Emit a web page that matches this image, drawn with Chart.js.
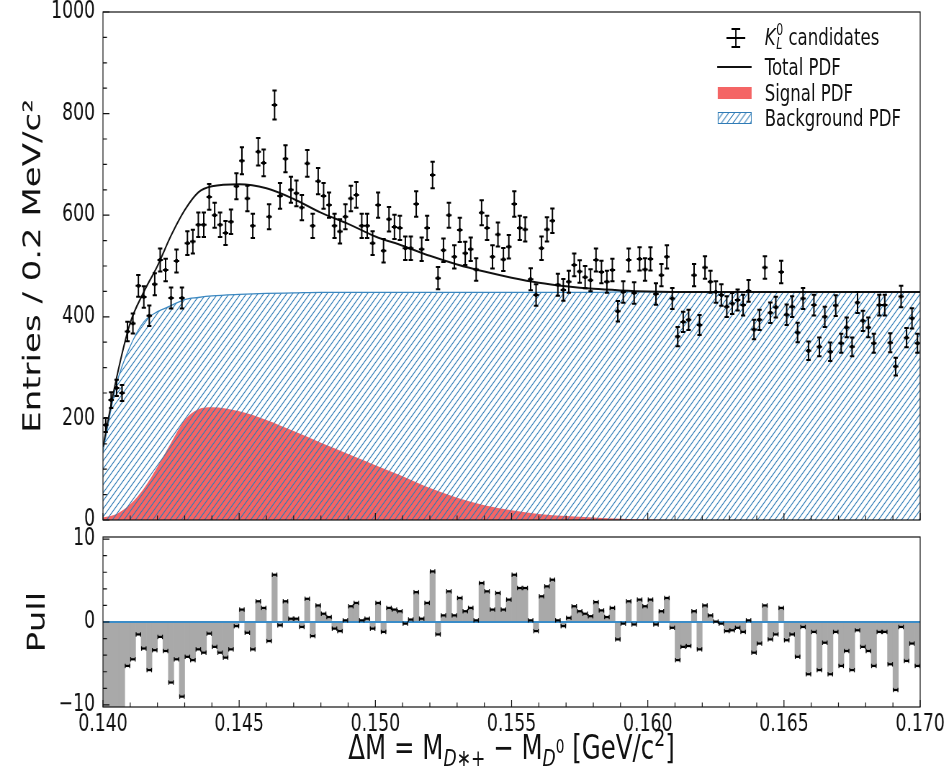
<!DOCTYPE html>
<html>
<head>
<meta charset="utf-8">
<title>ΔM fit of K_L^0 candidates</title>
<script src="https://cdn.jsdelivr.net/npm/chart.js@4.4.1/dist/chart.umd.min.js"></script>
<style>
  html, body { margin: 0; padding: 0; background: #fff; }
  body { width: 951px; height: 768px; overflow: hidden; }
  /* the reference figure is squeezed horizontally, so lay it out wide and scale it */
  #page { position: relative; width: 1321px; height: 768px; transform: scaleX(0.72); transform-origin: 0 0;
          font-family: "DejaVu Sans", sans-serif; color: #111; }
  canvas { position: absolute; left: 0; }
  #cTop { top: -20px; }
  #cPull { top: 510px; }
  .leg { position: absolute; left: 1062px; font-size: 23px; line-height: 30px; height: 30px; white-space: nowrap; }
  .icon { position: absolute; left: 990px; }
  .ss { display: inline-block; vertical-align: -0.28em; font-size: 0.66em; line-height: 0.95; margin-left: 1px; }
  .ss span { display: block; }
  #xtitle { position: absolute; left: 143px; width: 1135px; top: 727px; text-align: center; font-size: 34px; line-height: 40px; }
  #xtitle sub { font-size: 0.7em; vertical-align: -0.3em; line-height: 0; }
  #xtitle sub sup { font-size: 0.8em; vertical-align: 0.7em; }
  #xtitle > sup { font-size: 0.7em; vertical-align: 0.55em; line-height: 0; }
</style>
</head>
<body>
<div id="page">
  <canvas id="cTop" width="1321" height="570"></canvas>
  <canvas id="cPull" width="1321" height="258"></canvas>

  <svg class="icon" style="top:23px" width="60" height="30">
    <g stroke="#000" stroke-width="2">
      <line x1="32" y1="6" x2="32" y2="24"/><line x1="26" y1="6" x2="38" y2="6"/>
      <line x1="26" y1="24" x2="38" y2="24"/><line x1="19" y1="15" x2="45" y2="15"/>
    </g>
  </svg>
  <div class="leg" style="top:22px"><i>K</i><span class="ss"><span>0</span><span><i>L</i></span></span> candidates</div>

  <svg class="icon" style="top:52px" width="60" height="30">
    <line x1="6" y1="15" x2="54" y2="15" stroke="#111" stroke-width="2"/>
  </svg>
  <div class="leg" style="top:52px">Total PDF</div>

  <svg class="icon" style="top:78px" width="60" height="30">
    <rect x="7" y="9" width="47" height="12" fill="#f46565"/>
  </svg>
  <div class="leg" style="top:78px">Signal PDF</div>

  <svg class="icon" style="top:103px" width="60" height="30">
    <defs>
      <pattern id="hp" width="8" height="8" patternUnits="userSpaceOnUse">
        <path d="M0 8 L8 0 M-4 4 L4 -4 M4 12 L12 4" stroke="#2f7bb6" stroke-width="1.1"/>
      </pattern>
    </defs>
    <rect x="7.5" y="9.5" width="46" height="11" fill="url(#hp)" stroke="#2f7bb6" stroke-width="1"/>
  </svg>
  <div class="leg" style="top:103px">Background PDF</div>

  <div id="xtitle">ΔM = M<sub><i>D</i>∗+</sub> − M<sub><i>D</i><sup>0</sup></sub> [GeV/c<sup>2</sup>]</div>
</div>

<script>
// histogram: 150 bins of 0.2 MeV between 0.140 and 0.170 GeV
const xMin = 0.140, xMax = 0.170, binWidth = 0.0002;
const xTicks = [0.140, 0.145, 0.150, 0.155, 0.160, 0.165, 0.170];
const xTickLabels = ['0.140', '0.145', '0.150', '0.155', '0.160', '0.165', '0.170'];
const yTicks = [0, 200, 400, 600, 800, 1000];
const pullTicks = [-10, 0, 10];

const counts = [
  187, 236, 260, 250, 371, 387, 461, 439, 402, 464,
  512, 492, 437, 510, 437, 545, 548, 581, 581, 636,
  600, 581, 565, 587, 657, 707, 633, 579, 725, 703,
  597, 817, 638, 711, 650, 643, 615, 702, 579, 667,
  638, 620, 579, 568, 597, 633, 640, 579, 579, 545,
  620, 530, 592, 577, 575, 535, 535, 622, 533, 575,
  679, 476, 531, 600, 518, 571, 525, 533, 493, 605,
  575, 518, 562, 513, 538, 622, 575, 572, 474, 443,
  535, 572, 589, 463, 453, 469, 502, 489, 478, 472,
  512, 488, 469, 492, 411, 449, 512, 447, 514, 493,
  514, 445, 482, 518, 436, 361, 390, 394, 482, 384,
  497, 469, 449, 443, 420, 426, 433, 423, 451, 375,
  394, 497, 408, 419, 488, 404, 420, 369, 436, 333,
  423, 341, 400, 331, 422, 348, 379, 341, 428, 392,
  379, 348, 423, 423, 349, 302, 440, 359, 397, 348
];

const pulls = [
  -12, -12, -12, -12, -5.3, -4.5, -1.5, -3.2, -5.8, -3.4,
  -1.8, -3.5, -7.3, -4.5, -9.0, -4.2, -4.6, -3.3, -3.7, -1.4,
  -3.0, -3.7, -4.3, -3.3, -0.5, 1.5, -1.3, -3.3, 2.5, 1.7,
  -2.3, 5.7, -0.4, 2.5, 0.4, 0.4, -0.6, 2.8, -1.7, 2.0,
  1.0, 0.6, -0.8, -1.1, 0.2, 1.9, 2.3, 0.2, 0.4, -0.8,
  2.3, -1.2, 1.7, 1.5, 1.3, -0.2, 0.3, 3.6, 0.4, 2.3,
  6.1, -1.5, 0.8, 3.7, 0.8, 2.9, 1.3, 1.7, 0.2, 4.7,
  3.7, 1.5, 3.5, 1.5, 2.7, 5.7, 4.1, 4.1, 0.2, -1.1,
  3.1, 4.3, 5.1, 0.2, -0.5, 0.5, 1.9, 1.3, 1.0, 0.7,
  2.4, 1.4, 0.6, 1.7, -2.1, -0.2, 2.5, -0.3, 2.7, 1.9,
  2.7, -0.3, 1.3, 2.9, -0.7, -4.6, -3.0, -2.9, 1.3, -3.3,
  2.0, 0.8, 0.05, -0.2, -1.1, -1.0, -0.7, -1.2, 0.2, -3.7,
  -2.6, 2.0, -2.1, -1.5, 1.7, -2.2, -1.5, -4.2, -0.6, -6.3,
  -1.2, -5.8, -2.5, -6.3, -1.2, -5.3, -3.5, -5.8, -1.0, -3.0,
  -3.5, -5.3, -1.2, -1.2, -5.1, -8.2, -0.6, -4.7, -2.6, -5.3
];

// fitted PDFs sampled off the figure
const modelX = [0.1400, 0.1405, 0.1410, 0.1415, 0.1420, 0.1425, 0.1430, 0.1435, 0.1440, 0.1450,
                0.1460, 0.1470, 0.1480, 0.1490, 0.1500, 0.1510, 0.1520, 0.1530, 0.1540, 0.1550,
                0.1560, 0.1570, 0.1580, 0.1590, 0.1600, 0.1620, 0.1640, 0.1660, 0.1680, 0.1700];
const totalPdf = [144, 280, 388, 449, 500, 560, 610, 645, 657, 661,
                  653, 632, 605, 583, 558, 540, 520, 503, 489, 477,
                  467, 460, 455, 452, 450, 449, 449, 449, 449, 449];
const bkgPdf = [135, 268, 342, 390, 410, 422, 434, 438, 441, 444,
                446, 447, 448, 448, 448, 448, 448, 448, 448, 448,
                448, 448, 448, 449, 449, 449, 449, 449, 449, 449];
const sigPdf = [5, 12, 31, 62, 105, 152, 197, 218, 222, 214,
                197, 175, 152, 130, 108, 86, 63, 44, 29, 19,
                12, 8, 5, 2.5, 1, 0, 0, 0, 0, 0];

const binCenters = counts.map((_, i) => +(xMin + binWidth * (i + 0.5)).toFixed(5));
const errors = counts.map(Math.sqrt);
const dataPts = counts.map((c, i) => ({ x: binCenters[i], y: c }));
const pullPts = pulls.map((p, i) => ({ x: binCenters[i], y: p }));
const curve = arr => modelX.map((x, i) => ({ x, y: arr[i] }));

const FONT = 'DejaVu Sans';
const INK = '#111';
Chart.defaults.font.family = FONT;

function makeHatch() {
  const s = 8;
  const c = document.createElement('canvas');
  c.width = s; c.height = s;
  const g = c.getContext('2d');
  g.strokeStyle = '#2f7bb6';
  g.lineWidth = 1.1;
  g.beginPath();
  g.moveTo(0, s); g.lineTo(s, 0);
  g.moveTo(-s / 2, s / 2); g.lineTo(s / 2, -s / 2);
  g.moveTo(s / 2, s * 1.5); g.lineTo(s * 1.5, s / 2);
  g.stroke();
  return g.createPattern(c, 'repeat');
}

// box round the plot area with inward ticks on the left and bottom
const frame = {
  id: 'frame',
  afterDatasetsDraw(chart, args, o) {
    const { ctx, chartArea: a, scales: { x, y } } = chart;
    ctx.save();
    ctx.strokeStyle = INK;
    ctx.lineWidth = 1.2;
    ctx.beginPath();
    for (let k = 0; k <= 30; k++) {
      const px = x.getPixelForValue(xMin + k * 0.001);
      ctx.moveTo(px, a.bottom);
      ctx.lineTo(px, a.bottom - (k % 5 === 0 ? 7 : 4.5));
    }
    const n = Math.round((o.yTo - o.yFrom) / o.yMinor);
    for (let k = 0; k <= n; k++) {
      const v = o.yFrom + k * o.yMinor;
      const py = y.getPixelForValue(v);
      ctx.moveTo(a.left, py);
      ctx.lineTo(a.left + (k % o.every === 0 ? 9 : 5.5), py);
    }
    ctx.stroke();
    ctx.strokeRect(a.left, a.top, a.right - a.left, a.bottom - a.top);
    ctx.restore();
  }
};

const errorBars = {
  id: 'errorBars',
  beforeDatasetDraw(chart, args) {
    const ds = chart.data.datasets[args.index];
    if (!ds.errors) return;
    const { ctx, scales: { x, y } } = chart;
    const cap = 3;
    ctx.save();
    ctx.strokeStyle = '#000';
    ctx.lineWidth = 2;
    ctx.beginPath();
    ds.data.forEach((p, i) => {
      const e = ds.errors[i];
      const px = x.getPixelForValue(p.x), py = y.getPixelForValue(p.y);
      const y0 = y.getPixelForValue(p.y - e), y1 = y.getPixelForValue(p.y + e);
      ctx.moveTo(px, y0); ctx.lineTo(px, y1);
      ctx.moveTo(px - cap, y0); ctx.lineTo(px + cap, y0);
      ctx.moveTo(px - cap, y1); ctx.lineTo(px + cap, y1);
      ctx.moveTo(x.getPixelForValue(p.x - binWidth / 2), py);
      ctx.lineTo(x.getPixelForValue(p.x + binWidth / 2), py);
    });
    ctx.stroke();
    ctx.restore();
  }
};

const pullMarks = {
  id: 'pullMarks',
  afterDatasetsDraw(chart) {
    const { ctx, chartArea: a, scales: { x, y } } = chart;
    ctx.save();
    ctx.beginPath();
    ctx.rect(a.left, a.top, a.right - a.left, a.bottom - a.top);
    ctx.clip();
    const y0 = y.getPixelForValue(0);
    ctx.strokeStyle = '#3a8cc8';
    ctx.lineWidth = 1.8;
    ctx.beginPath();
    ctx.moveTo(a.left, y0); ctx.lineTo(a.right, y0);
    ctx.stroke();
    ctx.fillStyle = '#000';
    pullPts.forEach(p => {
      const px = x.getPixelForValue(p.x), py = y.getPixelForValue(p.y);
      ctx.fillRect(px - 3, py - 1.1, 6, 2.2);
      ctx.fillRect(px - 3.8, py - 2.2, 1.3, 4.4);
      ctx.fillRect(px + 2.5, py - 2.2, 1.3, 4.4);
    });
    ctx.restore();
  }
};

const tickFont = { family: FONT, size: 24 };
const titleFont = { family: FONT, size: 34 };

new Chart(document.getElementById('cTop'), {
  type: 'scatter',
  data: {
    datasets: [
      { label: 'K_L^0 candidates', data: dataPts, errors, pointStyle: 'rect', pointRadius: 2.6,
        backgroundColor: '#000', borderWidth: 0, order: 0 },
      { type: 'line', label: 'Total PDF', data: curve(totalPdf), borderColor: INK, borderWidth: 2,
        pointRadius: 0, fill: false, cubicInterpolationMode: 'monotone', order: 1 },
      { type: 'line', label: 'Background PDF', data: curve(bkgPdf), borderColor: '#3a87c0', borderWidth: 1.3,
        backgroundColor: makeHatch(), fill: 'origin', pointRadius: 0, cubicInterpolationMode: 'monotone', order: 2 },
      { type: 'line', label: 'Signal PDF', data: curve(sigPdf), borderColor: 'rgba(0,0,0,0)', borderWidth: 0,
        backgroundColor: '#f46565', fill: 'origin', pointRadius: 0, cubicInterpolationMode: 'monotone', order: 3 }
    ]
  },
  options: {
    responsive: false,
    animation: false,
    events: [],
    layout: { padding: { left: 0, right: 43, top: 32, bottom: 30 } },
    plugins: { legend: { display: false }, tooltip: { enabled: false },
               frame: { yFrom: 0, yTo: 1000, yMinor: 50, every: 4 } },
    scales: {
      x: { type: 'linear', min: xMin, max: xMax, display: false },
      y: {
        min: 0, max: 1000,
        afterFit(s) { s.width = 143; },
        afterBuildTicks(s) { s.ticks = yTicks.map(v => ({ value: v })); },
        grid: { display: false, drawTicks: false },
        border: { display: false },
        ticks: { callback: v => String(v), padding: 11, color: INK, font: tickFont },
        title: { display: true, text: 'Entries / 0.2 MeV/c²', color: INK, font: titleFont,
                 padding: { top: 27, bottom: 0 } }
      }
    }
  },
  plugins: [errorBars, frame]
});

new Chart(document.getElementById('cPull'), {
  type: 'bar',
  data: {
    datasets: [
      { label: 'Pull', data: pullPts, backgroundColor: '#a9a9a9', borderWidth: 0,
        barPercentage: 1, categoryPercentage: 1, grouped: false }
    ]
  },
  options: {
    responsive: false,
    animation: false,
    events: [],
    layout: { padding: { left: 0, right: 43, top: 27, bottom: 0 } },
    plugins: { legend: { display: false }, tooltip: { enabled: false },
               frame: { yFrom: -10, yTo: 10, yMinor: 2, every: 5 } },
    scales: {
      x: {
        type: 'linear', min: xMin, max: xMax, offset: false,
        afterFit(s) { s.height = 61; },
        afterBuildTicks(s) { s.ticks = xTicks.map(v => ({ value: v })); },
        grid: { display: false, drawTicks: false, offset: false },
        border: { display: false },
        ticks: { callback: (v, i) => xTickLabels[i], padding: 3, color: INK, font: tickFont,
                 maxRotation: 0, autoSkip: false }
      },
      y: {
        min: -10.25, max: 10.25,
        afterFit(s) { s.width = 143; },
        afterBuildTicks(s) { s.ticks = pullTicks.map(v => ({ value: v })); },
        grid: { display: false, drawTicks: false },
        border: { display: false },
        ticks: { callback: v => String(v).replace('-', '−'), padding: 11, color: INK, font: tickFont },
        title: { display: true, text: 'Pull', color: INK, font: titleFont, padding: { top: 33, bottom: 0 } }
      }
    }
  },
  plugins: [pullMarks, frame]
});
</script>
</body>
</html>
